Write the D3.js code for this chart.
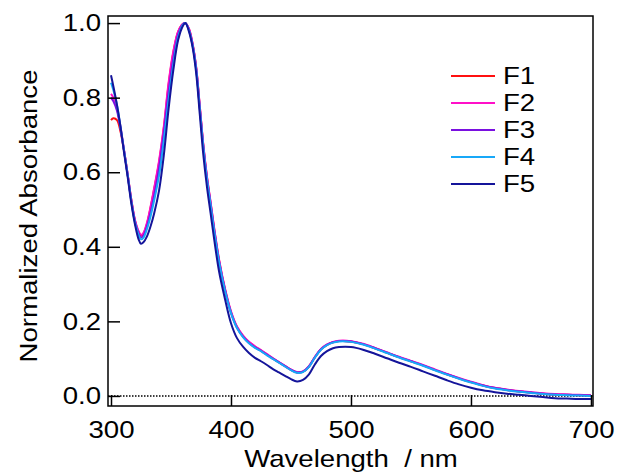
<!DOCTYPE html>
<meta charset="utf-8">
<style>
    body { margin: 0; background: #fff; }
    text { font-family: "Liberation Sans", Arial, sans-serif; fill: #000; }
</style>
<body>
    <div id="chart"></div>
</body>
<script src="https://cdn.jsdelivr.net/npm/d3@7"></script>
<script>
    var svg_width = 618,
        svg_height = 476;

    // wavelength grid (nm), shared by all five spectra
    var wavelengths = [300, 302, 305, 308, 311, 314, 317, 320, 323, 325,
                       327, 330, 333, 336, 340, 344, 348, 352, 356, 360,
                       362, 365, 368, 371, 374, 377, 380, 383, 386, 390,
                       395, 400, 405, 410, 415, 420, 425, 430, 435, 440,
                       445, 450, 455, 460, 465, 470, 475, 480, 485, 490,
                       500, 510, 520, 530, 540, 550, 560, 570, 580, 590,
                       600, 610, 620, 630, 640, 650, 660, 670, 680, 690,
                       700];

    var F1 = [0.74, 0.745, 0.74, 0.708, 0.655, 0.592, 0.525, 0.47, 0.44, 0.43,
              0.435, 0.462, 0.505, 0.555, 0.625, 0.718, 0.835, 0.922, 0.977, 0.998,
              1.0, 0.984, 0.944, 0.88, 0.776, 0.67, 0.586, 0.518, 0.448, 0.365,
              0.286, 0.225, 0.185, 0.161, 0.144, 0.132, 0.122, 0.111, 0.1, 0.09,
              0.08, 0.07, 0.063, 0.065, 0.079, 0.104, 0.125, 0.137, 0.144, 0.147,
              0.146, 0.139, 0.128, 0.116, 0.104, 0.093, 0.082, 0.07, 0.058, 0.047,
              0.037, 0.028, 0.021, 0.016, 0.012, 0.009, 0.006, 0.004, 0.003, 0.002,
              0.001];
    var F2 = [0.81, 0.80, 0.77, 0.72, 0.657, 0.592, 0.525, 0.472, 0.442, 0.432,
              0.437, 0.465, 0.508, 0.558, 0.63, 0.722, 0.84, 0.925, 0.978, 0.998,
              1.0, 0.985, 0.945, 0.882, 0.778, 0.672, 0.588, 0.52, 0.45, 0.367,
              0.288, 0.227, 0.186, 0.162, 0.145, 0.133, 0.123, 0.112, 0.101, 0.091,
              0.081, 0.071, 0.064, 0.066, 0.08, 0.105, 0.126, 0.138, 0.145, 0.148,
              0.147, 0.14, 0.129, 0.117, 0.105, 0.094, 0.083, 0.071, 0.059, 0.048,
              0.038, 0.029, 0.022, 0.017, 0.013, 0.01, 0.007, 0.005, 0.004, 0.003,
              0.002];
    var F3 = [0.80, 0.79, 0.765, 0.715, 0.655, 0.59, 0.522, 0.468, 0.436, 0.425,
              0.43, 0.455, 0.492, 0.538, 0.61, 0.705, 0.815, 0.905, 0.97, 0.997,
              1.0, 0.982, 0.942, 0.878, 0.773, 0.668, 0.583, 0.515, 0.445, 0.362,
              0.284, 0.223, 0.183, 0.159, 0.142, 0.13, 0.121, 0.11, 0.1, 0.09,
              0.08, 0.07, 0.063, 0.065, 0.079, 0.104, 0.125, 0.137, 0.144, 0.147,
              0.146, 0.139, 0.128, 0.116, 0.104, 0.093, 0.082, 0.07, 0.058, 0.047,
              0.037, 0.028, 0.021, 0.016, 0.012, 0.009, 0.006, 0.004, 0.003, 0.002,
              0.001];
    var F4 = [0.84, 0.82, 0.78, 0.72, 0.655, 0.59, 0.52, 0.465, 0.432, 0.42,
              0.424, 0.448, 0.482, 0.525, 0.59, 0.685, 0.795, 0.89, 0.963, 0.996,
              1.0, 0.98, 0.94, 0.875, 0.77, 0.665, 0.58, 0.512, 0.442, 0.36,
              0.282, 0.222, 0.182, 0.158, 0.141, 0.129, 0.12, 0.109, 0.099, 0.089,
              0.079, 0.069, 0.062, 0.064, 0.078, 0.103, 0.124, 0.136, 0.143, 0.146,
              0.145, 0.138, 0.127, 0.115, 0.103, 0.092, 0.081, 0.069, 0.057, 0.046,
              0.036, 0.027, 0.02, 0.015, 0.011, 0.008, 0.005, 0.003, 0.002, 0.001,
              0.0];
    var F5 = [0.86, 0.83, 0.78, 0.72, 0.65, 0.585, 0.515, 0.46, 0.42, 0.408,
              0.412, 0.428, 0.455, 0.49, 0.55, 0.645, 0.77, 0.875, 0.955, 0.993,
              1.0, 0.977, 0.935, 0.865, 0.755, 0.645, 0.56, 0.49, 0.42, 0.335,
              0.26, 0.195, 0.155, 0.132, 0.115, 0.102, 0.093, 0.083, 0.072, 0.063,
              0.054, 0.045, 0.039, 0.043, 0.058, 0.085, 0.107, 0.12, 0.128, 0.131,
              0.131, 0.124, 0.113, 0.101, 0.089, 0.078, 0.066, 0.054, 0.042, 0.031,
              0.022, 0.015, 0.01, 0.006, 0.003, 0.0, -0.003, -0.006, -0.007, -0.008,
              -0.008];

    var series_names = ["F1", "F2", "F3", "F4", "F5"];
    var series_values = [F1, F2, F3, F4, F5];
    var x_ticks = [300, 400, 500, 600, 700];
    var y_ticks = [0.0, 0.2, 0.4, 0.6, 0.8, 1.0];

    var colors = ["#ff1010", "#ff10c8", "#7a10e0", "#18a8f8", "#14149a"];
    var stretch = "scale(1.15,1)";   // the original font runs a bit wider than Arial

    var x = d3.scaleLinear().domain([297.5, 701.7]).range([108, 593]);
    var y = d3.scaleLinear().domain([-0.027, 1.019]).range([406, 16]);

    var svg = d3.select("#chart").append("svg")
        .attr("width", svg_width)
        .attr("height", svg_height);

    // dotted zero line
    svg.append("line")
        .attr("x1", x.range()[0]).attr("x2", x.range()[1])
        .attr("y1", y(0)).attr("y2", y(0))
        .style("stroke", "#000")
        .style("stroke-width", 1.5)
        .style("stroke-dasharray", "1.5,1.5");

    // spectra
    var line = d3.line()
        .x(function(d) { return x(d[0]); })
        .y(function(d) { return y(d[1]); })
        .curve(d3.curveCatmullRom.alpha(0.5));

    svg.append("g")
        .selectAll("path")
        .data(series_values)
        .enter()
            .append("path")
            .attr("d", function(vals) { return line(vals.map(function(v, i) { return [wavelengths[i], v]; })); })
            .style("fill", "none")
            .style("stroke", function(d, i) { return colors[i]; })
            .style("stroke-width", 2);

    // axes, ticks pointing inwards
    var x_axis = svg.append("g")
        .attr("transform", "translate(0," + y.range()[0] + ")")
        .call(d3.axisBottom(x).tickValues(x_ticks).tickSize(-11).tickPadding(15).tickFormat(d3.format("d")));
    var y_axis = svg.append("g")
        .attr("transform", "translate(" + x.range()[0] + ",0)")
        .call(d3.axisLeft(y).tickValues(y_ticks).tickSize(-12).tickPadding(7).tickFormat(d3.format(".1f")));

    [x_axis, y_axis].forEach(function(ax) {
        ax.select(".domain").remove();
        ax.selectAll(".tick line").style("stroke", "#000").style("stroke-width", 1.5);
        ax.selectAll(".tick text")
            .style("font-size", "24px")
            .style("font-family", "'Liberation Sans', Arial, sans-serif")
            .attr("fill", "#000");
    });
    x_axis.selectAll(".tick text").attr("transform", stretch);
    y_axis.selectAll(".tick text").attr("x", -7 / 1.15).attr("transform", stretch);

    // frame
    svg.append("rect")
        .attr("x", x.range()[0]).attr("y", y.range()[1])
        .attr("width", x.range()[1] - x.range()[0])
        .attr("height", y.range()[0] - y.range()[1])
        .style("fill", "none")
        .style("stroke", "#000")
        .style("stroke-width", 1.5);

    // axis titles
    svg.append("text")
        .attr("transform", "translate(351,467) " + stretch)
        .attr("text-anchor", "middle")
        .style("font-size", "24px")
        .text("Wavelength  / nm")
        .attr("xml:space", "preserve");

    svg.append("text")
        .attr("transform", "translate(37,216) rotate(-90) " + stretch)
        .attr("text-anchor", "middle")
        .style("font-size", "24px")
        .text("Normalized Absorbance");

    // legend
    var legend = svg.append("g")
        .selectAll("g")
        .data(series_names)
        .enter()
            .append("g")
            .attr("transform", function(d, i) { return "translate(451," + (76 + i * 27) + ")"; });

    legend.append("line")
        .attr("x1", 0).attr("x2", 44)
        .style("stroke", function(d, i) { return colors[i]; })
        .style("stroke-width", 2);

    legend.append("text")
        .attr("transform", "translate(52,8) " + stretch)
        .style("font-size", "24px")
        .text(function(d) { return d; });
</script>
